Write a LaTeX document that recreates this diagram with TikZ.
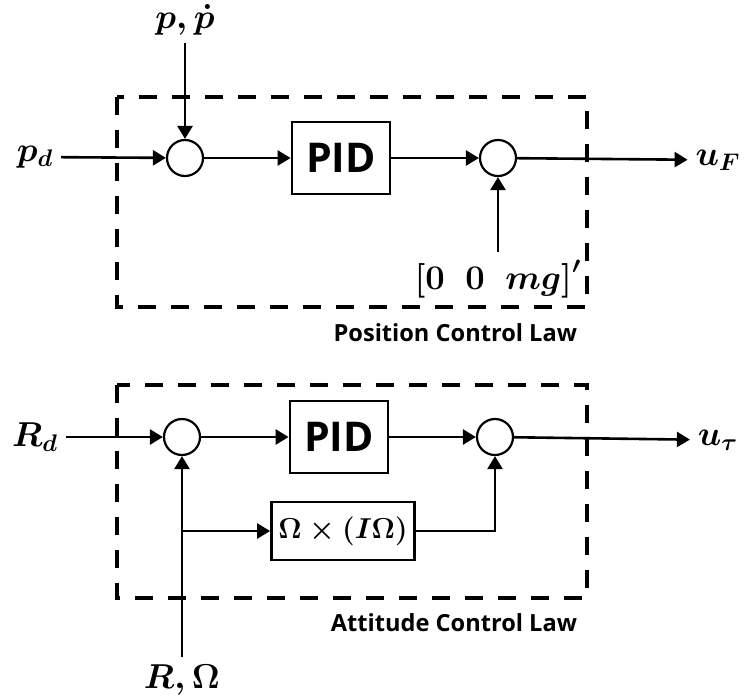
\documentclass[tikz,border=0pt]{standalone}
\usepackage{amsmath}
\usepackage[no-math]{fontspec}
\setsansfont{Open Sans}
\usetikzlibrary{arrows.meta,positioning}

\begin{document}
\begin{tikzpicture}[x=0.5pt,y=-0.5pt,
>={Triangle[length=6.5pt,width=7.5pt]},
line width=1.3pt,
sumnode/.style={circle, draw, line width=1.1pt, minimum size=18pt, inner sep=0pt},
blocknode/.style={rectangle, draw, line width=1.4pt, minimum width=49pt, minimum height=36pt, font=\sffamily\bfseries\fontsize{20.5}{21}\selectfont},
signal/.style={font=\boldmath\fontsize{17}{17}\selectfont},
lawbox/.style={draw, line width=1.9pt, dash pattern=on 9pt off 7.5pt},
lawname/.style={font=\sffamily\bfseries\fontsize{11.8}{13}\selectfont, anchor=east},
]
\useasboundingbox (0,0) rectangle (745,698);

% position loop
\draw[lawbox] (117,97) rectangle (587,307);
\node[lawname] (poslaw) at (585,333) {Position Control Law};

\node[signal]    (pd)   at (35,157)  {$p_d$};
\node[signal]    (pp)   at (185,20)  {$p,\dot p$};
\node[sumnode]   (sum1) at (185,158) {};
\node[blocknode] (pid1) at (341,158) {PID};
\node[sumnode]   (sum2) at (498,158) {};
\node[signal]    (uF)   at (718,160) {$u_F$};
\node[signal]    (mg)   at (498,279) {$\mathbf{[0\ \ 0}\ \ mg\mathbf{]}'$};

\draw[->] (pd) -- (sum1);
\draw[->] (pp) -- (sum1);
\draw[->] (sum1) -- (pid1);
\draw[->] (pid1) -- (sum2);
\draw[->] (sum2) -- (uF);
\draw[->] (mg) -- (sum2);

% attitude loop
\draw[lawbox] (117,385) rectangle (587,598);
\node[lawname] (attlaw) at (585,623) {Attitude Control Law};

\node[signal]    (Rd)   at (35,437)  {$R_d$};
\node[sumnode]   (sum3) at (182,437) {};
\node[blocknode] (pid2) at (339,437) {PID};
\node[sumnode]   (sum4) at (495,437) {};
\node[signal]    (utau) at (718,440) {$u_\tau$};
\node[blocknode, minimum width=71.5pt, minimum height=29pt, inner sep=1pt, font=\boldmath\fontsize{15.5}{16}\selectfont]
                 (gyro) at (343,531) {$\mathbf{\Omega}\times\mathbf{(}I\mathbf{\Omega)}$};
\node[signal]    (ROm)  at (182,680) {$R,\mathbf{\Omega}$};
\coordinate (branch) at (sum3 |- gyro);

\draw[->] (Rd) -- (sum3);
\draw[->] (ROm) -- (sum3);
\draw[->] (sum3) -- (pid2);
\draw[->] (pid2) -- (sum4);
\draw[->] (sum4) -- (utau);
\draw[->] (branch) -- (gyro);
\draw[->] (gyro) -| (sum4);

\end{tikzpicture}
\end{document}
